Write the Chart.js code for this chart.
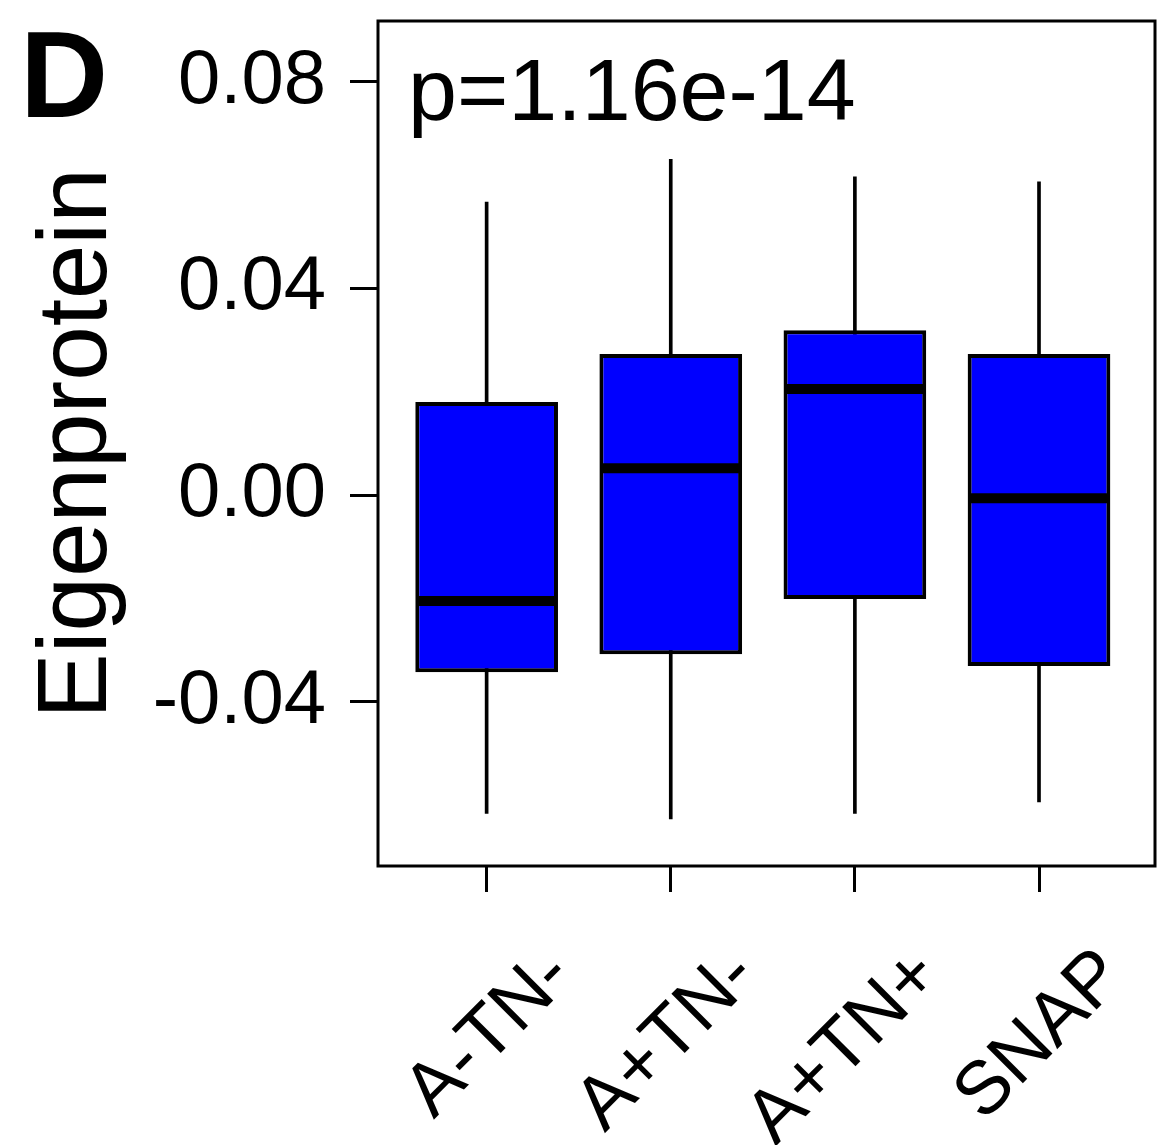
<!DOCTYPE html>
<html>
<head>
<meta charset="utf-8">
<title>Eigenprotein boxplot</title>
<script src="https://cdn.jsdelivr.net/npm/chart.js@4.4.1/dist/chart.umd.min.js"></script>
<style>
  html, body { margin: 0; padding: 0; background: #fff; }
  canvas { display: block; }
</style>
</head>
<body>
<canvas id="boxChart" width="1168" height="1145"></canvas>
<script>
// groups and box statistics
const groups = ['A-TN-', 'A+TN-', 'A+TN+', 'SNAP'];
const whiskerLow = [-0.0616, -0.0627, -0.0616, -0.0594];
const q1 = [-0.0343, -0.0308, -0.0201, -0.0331];
const medians = [-0.0205, 0.0052, 0.0205, -0.0006];
const q3 = [0.0180, 0.0273, 0.0319, 0.0273];
const whiskerHigh = [0.0567, 0.0650, 0.0616, 0.0606];
const yTicks = [-0.04, 0, 0.04, 0.08];
const panelLetter = 'D';
const pLabel = 'p=1.16e-14';
const yTitle = 'Eigenprotein';

const FONT = "'Liberation Sans', Arial, sans-serif";

// frame around the plot area plus the panel letter and p-value
const framePlugin = {
    id: 'frame',
    afterDraw(chart) {
        const { ctx, chartArea } = chart;
        ctx.save();
        ctx.strokeStyle = '#000';
        ctx.lineWidth = 3;
        ctx.strokeRect(chartArea.left, chartArea.top,
            chartArea.right - chartArea.left, chartArea.bottom - chartArea.top);

        ctx.fillStyle = '#000';
        ctx.textBaseline = 'alphabetic';
        ctx.font = 'bold 122px ' + FONT;
        ctx.fillText(panelLetter, 20, 117);
        ctx.font = '88px ' + FONT;
        ctx.fillText(pLabel, chartArea.left + 30, 120);
        ctx.restore();
    }
};

const bgPlugin = {
    id: 'bg',
    beforeDraw(chart) {
        const ctx = chart.ctx;
        ctx.save();
        ctx.fillStyle = '#fff';
        ctx.fillRect(0, 0, chart.width, chart.height);
        ctx.restore();
    }
};

const ctx = document.getElementById('boxChart');
new Chart(ctx, {
    type: 'bar',
    data: {
        datasets: [
            {
                // median lines
                type: 'scatter',
                data: groups.map((g, i) => ({ x: i + 1, y: medians[i] })),
                pointStyle: 'line',
                pointRadius: 70,
                pointHoverRadius: 70,
                borderColor: '#000',
                pointBorderWidth: 10,
                borderWidth: 10,
                order: 1
            },
            {
                // boxes (q1..q3)
                data: groups.map((g, i) => ({ x: i + 1, y: [q1[i], q3[i]] })),
                backgroundColor: '#0000ff',
                borderColor: '#000',
                borderWidth: 4,
                borderSkipped: false,
                grouped: false,
                categoryPercentage: 1,
                barPercentage: 0.775,
                order: 2
            },
            {
                // whiskers
                data: groups.map((g, i) => ({ x: i + 1, y: [whiskerLow[i], whiskerHigh[i]] })),
                backgroundColor: '#000',
                borderWidth: 0,
                grouped: false,
                barThickness: 3,
                order: 3
            }
        ]
    },
    options: {
        responsive: false,
        animation: false,
        layout: {
            autoPadding: false,
            padding: { top: 21, right: 13, left: 0, bottom: 0 }
        },
        plugins: {
            legend: { display: false },
            tooltip: { enabled: false }
        },
        scales: {
            x: {
                type: 'linear',
                offset: false,
                min: 0.41,
                max: 4.63,
                afterBuildTicks: scale => {
                    scale.ticks = groups.map((g, i) => ({ value: i + 1 }));
                },
                afterFit: scale => {
                    scale.height = 279;
                    scale.paddingLeft = 0;
                    scale.paddingRight = 0;
                },
                border: { display: false },
                grid: {
                    offset: false,
                    drawOnChartArea: false,
                    drawTicks: true,
                    tickLength: 26,
                    tickWidth: 3,
                    tickColor: '#000'
                },
                ticks: {
                    autoSkip: false,
                    minRotation: 45,
                    maxRotation: 45,
                    padding: 40,
                    labelOffset: 74,
                    color: '#000',
                    font: { family: FONT, size: 75 },
                    callback: v => groups[v - 1]
                }
            },
            y: {
                min: -0.0718,
                max: 0.09175,
                afterBuildTicks: scale => {
                    scale.ticks = yTicks.map(v => ({ value: v }));
                },
                afterFit: scale => {
                    scale.width = 378;
                    scale.paddingTop = 0;
                    scale.paddingBottom = 0;
                },
                border: { display: false },
                grid: {
                    drawOnChartArea: false,
                    drawTicks: true,
                    tickLength: 28,
                    tickWidth: 3,
                    tickColor: '#000'
                },
                ticks: {
                    padding: 24,
                    color: '#000',
                    font: { family: FONT, size: 76 },
                    callback: v => v.toFixed(2)
                },
                title: {
                    display: true,
                    text: yTitle,
                    color: '#000',
                    padding: { top: 20, bottom: 0 },
                    font: { family: FONT, size: 98 }
                }
            }
        }
    },
    plugins: [bgPlugin, framePlugin]
});
</script>
</body>
</html>
